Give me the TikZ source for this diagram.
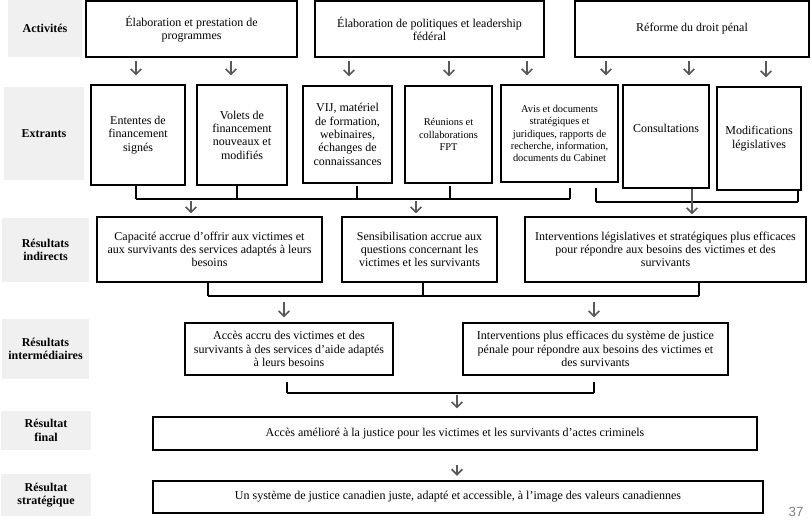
\documentclass[tikz,border=0pt]{standalone}
\usepackage{fontspec}
\setmainfont{Liberation Serif}
\newfontfamily\numfont{Liberation Sans}
\usetikzlibrary{arrows.meta}
\definecolor{lblbg}{HTML}{F0F0F0}
\definecolor{arrgray}{HTML}{595959}
\definecolor{pgnum}{HTML}{7F7F7F}
\newcommand\txtnine{\fontsize{9}{10}\selectfont}
\newcommand\txtsmall{\fontsize{7.8}{9.2}\selectfont}
\tikzset{
  rect/.style n args={4}{anchor=center,
    at={({(#1+#3)/2},{(#2+#4)/2})},
    minimum width={(#3-#1)*0.75pt},
    minimum height={(#4-#2)*0.75pt}},
  box/.style={draw, line width=0.8pt, align=center, inner sep=1pt, font=\txtnine},
  smallbox/.style={box, font=\txtsmall},
  lbl/.style={fill=lblbg, align=center, inner sep=1pt, font=\txtnine\bfseries},
  arr/.style={draw=arrgray, line width=1.3pt, -{Straight Barb[length=4pt,width=8pt]}},
  stub/.style={line width=1.5pt},
  bus/.style={line width=0.9pt},
}
\begin{document}
\begin{tikzpicture}[x=0.75pt, y=-0.75pt]
\useasboundingbox (0,0) rectangle (812,523);

% row labels
\node[lbl, rect={8}{0}{82}{57}] (L1) {Activités};
\node[lbl, rect={4}{87}{84}{180}] (L2) {Extrants};
\node[lbl, rect={2}{218}{89}{282}] (L3) {Résultats\\indirects};
\node[lbl, rect={2}{319}{89}{379}] (L4) {Résultats\\intermédiaires};
\node[lbl, rect={1}{411}{91}{450}] (L5) {Résultat\\final};
\node[lbl, rect={1}{474}{91}{516}] (L6) {Résultat\\stratégique};

% activities
\node[box, rect={86}{1}{297}{57}] (A1) {Élaboration et prestation de\\programmes};
\node[box, rect={315}{1}{544}{57}] (A2) {Élaboration de politiques et leadership\\fédéral};
\node[box, rect={575}{1}{809}{57}] (A3) {Réforme du droit pénal};

% outputs
\node[box, rect={91}{85}{185}{185}] (E1) {Ententes de\\financement\\signés};
\node[box, rect={197}{85}{287}{185}] (E2) {Volets de\\financement\\nouveaux et\\modifiés};
\node[box, rect={303}{86}{392}{183}] (E3) {VIJ, matériel\\de formation,\\webinaires,\\échanges de\\connaissances};
\node[smallbox, rect={405}{86}{492}{183}] (E4) {Réunions et\\collaborations\\FPT};
\node[smallbox, rect={501}{85}{618}{182}] (E5) {Avis et documents\\stratégiques et\\juridiques, rapports de\\recherche, information,\\documents du Cabinet};
\node[box, rect={623}{85}{709}{188}] (E6) {Consultations\\[2pt]\mbox{}};
\node[box, rect={717}{87}{801}{190}] (E7) {Modifications\\législatives};

% immediate outcomes
\node[box, rect={97}{217}{322}{282}] (R1) {Capacité accrue d’offrir aux victimes et\\aux survivants des services adaptés à leurs\\besoins};
\node[box, rect={342}{217}{497}{282}] (R2) {Sensibilisation accrue aux\\questions concernant les\\victimes et les survivants};
\node[box, rect={525}{217}{806}{282}] (R3) {Interventions législatives et stratégiques plus efficaces\\pour répondre aux besoins des victimes et des\\survivants};

% intermediate outcomes
\node[box, rect={185}{323}{393}{375}] (I1) {Accès accru des victimes et des\\survivants à des services d’aide adaptés\\à leurs besoins};
\node[box, rect={463}{323}{728}{375}] (I2) {Interventions plus efficaces du système de justice\\pénale pour répondre aux besoins des victimes et\\des survivants};

% final and strategic
\node[box, rect={153}{417}{757}{450}] (F) {Accès amélioré à la justice pour les victimes et les survivants d’actes criminels};
\node[box, rect={153}{481}{763}{513}] (S) {Un système de justice canadien juste, adapté et accessible, à l’image des valeurs canadiennes};

% activity -> output arrows
\draw[arr, shorten <=2.25pt, shorten >=6.75pt] (A1.south -| 136,0) -- (E1.north -| 136,0);
\draw[arr, shorten <=2.25pt, shorten >=6.75pt] (A1.south -| 231,0) -- (E2.north -| 231,0);
\draw[arr, shorten <=2.25pt, shorten >=6.75pt] (A2.south -| 349,0) -- (E3.north -| 349,0);
\draw[arr, shorten <=2.25pt, shorten >=6.75pt] (A2.south -| 449,0) -- (E4.north -| 449,0);
\draw[arr, shorten <=2.25pt, shorten >=6.75pt] (A2.south -| 527,0) -- (E5.north -| 527,0);
\draw[arr, shorten <=2.25pt, shorten >=6.75pt] (A3.south -| 606,0) -- (E5.north -| 606,0);
\draw[arr, shorten <=2.25pt, shorten >=6.75pt] (A3.south -| 689,0) -- (E6.north -| 689,0);
\draw[arr, shorten <=2.25pt, shorten >=6.75pt] (A3.south -| 766,0) -- (E7.north -| 766,0);

% group 1 bus
\coordinate (g1a) at (136,199);
\coordinate (g1b) at (237,199);
\coordinate (g1c) at (357,199);
\coordinate (g1d) at (450,199);
\coordinate (g1e) at (570,199);
\coordinate (g1r) at (191,199);
\coordinate (g1s) at (416,199);
\draw[stub] (E1.south -| g1a) -- (g1a);
\draw[stub] (E2.south -| g1b) -- (g1b);
\draw[stub, shorten <=2pt] (E3.south -| g1c) -- (g1c);
\draw[stub, shorten <=2pt] (E4.south -| g1d) -- (g1d);
\draw[stub, shorten <=4pt] (E5.south -| g1e) -- (g1e);
\draw[bus] (g1a) -- (g1e);
\draw[arr, shorten <=1.5pt, shorten >=2.25pt] (g1r) -- (R1.north -| g1r);
\draw[arr, shorten <=1.5pt, shorten >=2.25pt] (g1s) -- (R2.north -| g1s);

% group 2 bus
\coordinate (g2a) at (596,202);
\coordinate (g2b) at (798,202);
\draw[stub, shorten <=4pt] (E5.south -| g2a) -- (g2a);
\draw[stub] (E7.south -| g2b) -- (g2b);
\draw[bus] (g2a) -- (g2b);
\draw[arr, shorten >=1.5pt] (E6.south -| 692,0) -- (R3.north -| 692,0);

% group 3 bus
\coordinate (g3a) at (208,296);
\coordinate (g3b) at (423,296);
\coordinate (g3c) at (699,296);
\coordinate (g3r) at (284,296);
\coordinate (g3s) at (594,296);
\draw[stub] (R1.south -| g3a) -- (g3a);
\draw[stub] (R2.south -| g3b) -- (g3b);
\draw[stub, line width=2.2pt] (R3.south -| g3c) -- (g3c);
\draw[bus] (g3a) -- (g3c);
\draw[arr, shorten <=4.5pt, shorten >=3.75pt] (g3r) -- (I1.north -| g3r);
\draw[arr, shorten <=4.5pt, shorten >=3.75pt] (g3s) -- (I2.north -| g3s);

% group 4 bus
\coordinate (g4a) at (287,393);
\coordinate (g4b) at (594,393);
\coordinate (g4r) at (457,393);
\draw[stub, shorten <=5pt] (I1.south -| g4a) -- (g4a);
\draw[stub, shorten <=5pt] (I2.south -| g4b) -- (g4b);
\draw[bus] (g4a) -- (g4b);
\draw[arr, shorten <=1.5pt, shorten >=6pt] (g4r) -- (F.north -| g4r);

% final -> strategic
\draw[arr, shorten <=10.5pt, shorten >=3.5pt] (F.south -| g4r) -- (S.north -| g4r);

% page number
\node[font=\numfont\fontsize{10}{12}\selectfont, text=pgnum] (pg) at (796,512) {37};
\end{tikzpicture}
\end{document}
